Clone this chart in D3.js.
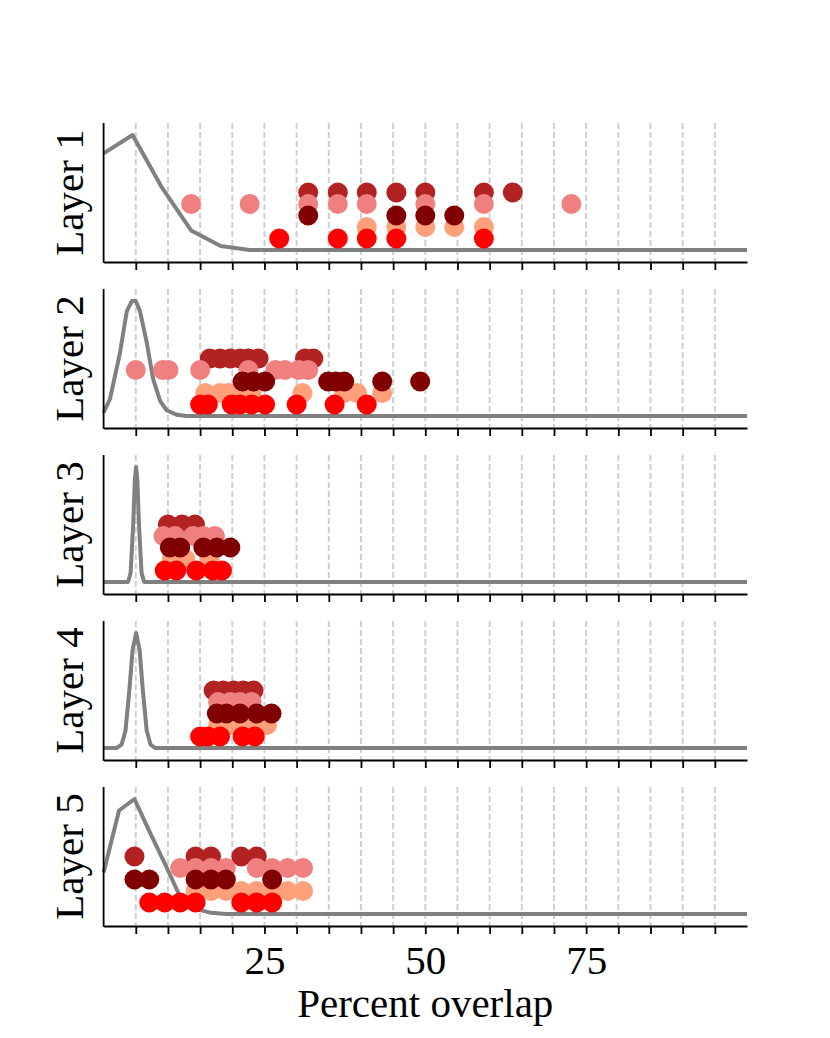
<!DOCTYPE html>
<html>
<head>
<meta charset="utf-8">
<script src="https://cdn.jsdelivr.net/npm/d3@7"></script>
<style>
  body { margin: 0; background: #fff; }
  text { font-family: "Liberation Serif", "DejaVu Serif", serif; fill: #000; }
</style>
</head>
<body>
<div id="chart"></div>
<script>
// ---- data ----
const layerNames = ["Layer 1", "Layer 2", "Layer 3", "Layer 4", "Layer 5"];
const dotColors = ["red", "lightsalmon", "maroon", "lightcoral", "firebrick"];
const tickValues = [5, 10, 15, 20, 25, 30, 35, 40, 45, 50, 55, 60, 65, 70, 75, 80, 85, 90, 95];
const tickLabels = [25, 50, 75];

// density curves (x = percent overlap, y = relative to the peak)
const curveX1 = [0, 4.5, 9.1, 13.6, 18.2, 22.7, 100];
const curveY1 = [0.84, 1.0, 0.54, 0.17, 0.035, 0, 0];
const curveX2 = [0, 1.0, 2.55, 3.6, 4.4, 5.0, 5.66, 6.7, 7.7, 8.8, 9.8, 11.4, 12.9, 100];
const curveY2 = [0.03, 0.15, 0.55, 0.91, 1.0, 1.0, 0.91, 0.64, 0.32, 0.13, 0.05, 0.01, 0, 0];
const curveX3 = [0, 3.8, 4.2, 4.6, 4.85, 5.05, 5.25, 5.5, 5.9, 6.3, 100];
const curveY3 = [0, 0, 0.08, 0.5, 0.88, 1.0, 0.88, 0.5, 0.08, 0, 0];
const curveX4 = [0, 2.0, 2.8, 3.4, 4.0, 4.5, 5.05, 5.6, 6.1, 6.7, 7.3, 8.0, 100];
const curveY4 = [0, 0, 0.03, 0.15, 0.5, 0.85, 1.0, 0.85, 0.5, 0.15, 0.03, 0, 0];
const curveX5 = [0, 2.4, 4.8, 7.1, 9.5, 11.9, 14.3, 16.7, 19.0, 100];
const curveY5 = [0.36, 0.9, 1.0, 0.72, 0.44, 0.15, 0.045, 0.01, 0, 0];

// dots per layer, one list per colour (same order as dotColors)
const dots1 = [
  [27.3, 36.4, 40.9, 45.5, 59.1],
  [40.9, 45.5, 50.0, 54.5, 59.1],
  [31.8, 45.5, 50.0, 54.5],
  [13.6, 22.7, 31.8, 36.4, 40.9, 50.0, 59.1, 72.7],
  [31.8, 36.4, 40.9, 45.5, 50.0, 59.1, 63.6]
];
const dots2 = [
  [15.0, 16.2, 19.9, 21.2, 23.0, 25.1, 30.0, 35.9, 40.9],
  [15.8, 18.1, 19.4, 21.2, 23.0, 30.9, 37.4, 39.4, 43.3],
  [21.6, 23.3, 25.1, 34.9, 36.1, 37.4, 43.3, 49.2],
  [5.0, 9.2, 10.1, 15.0, 22.5, 26.7, 28.2, 30.3, 31.8],
  [16.5, 18.1, 19.7, 21.2, 22.5, 24.1, 31.3, 32.6]
];
const dots3 = [
  [9.5, 11.3, 14.4, 17.0, 18.4],
  [10.6, 12.7, 16.5],
  [10.3, 11.9, 15.5, 17.6, 19.7],
  [9.3, 11.1, 13.9, 15.5, 17.3],
  [10.0, 12.2, 14.2]
];
const dots4 = [
  [15.0, 16.2, 18.1, 21.6, 23.5],
  [17.8, 19.7, 21.5, 23.3, 25.4],
  [17.6, 19.1, 21.2, 23.8, 26.1],
  [17.8, 19.7, 21.2, 23.0],
  [17.1, 18.6, 20.2, 21.7, 23.3]
];
const dots5 = [
  [7.1, 9.5, 11.9, 14.3, 21.4, 23.8, 26.2],
  [14.3, 16.7, 19.0, 21.4, 23.8, 26.2, 28.6, 31.0],
  [4.8, 7.1, 14.3, 16.7, 19.0, 26.2],
  [11.9, 14.3, 16.7, 19.0, 23.8, 26.2, 28.6, 31.0],
  [4.8, 14.3, 16.7, 21.4, 23.8]
];

const curvesX = [curveX1, curveX2, curveX3, curveX4, curveX5];
const curvesY = [curveY1, curveY2, curveY3, curveY4, curveY5];
const dotsAll = [dots1, dots2, dots3, dots4, dots5];

// ---- layout ----
const width = 830, height = 1038;
const left = 103.6, right = 747;
const firstTop = 123, panelH = 139, panelStep = 166;
const pad = 12;          // gap between data range and panel edge
const rowStep = 0.1;     // vertical spacing of the dot rows
const drawOrder = [4, 3, 1, 2, 0];
const fontSize = 41;

const svg = d3.select("#chart").append("svg")
  .attr("width", width)
  .attr("height", height);

const x = d3.scaleLinear().domain([0, 100]).range([left, right]);

layerNames.forEach((name, i) => {
  const top = firstTop + i * panelStep;
  const bottom = top + panelH;
  const y = d3.scaleLinear().domain([0, 1]).range([bottom - pad, top + pad]);
  const g = svg.append("g").attr("class", "panel");

  // dashed grid
  g.selectAll(".grid")
    .data(tickValues)
    .join("line")
    .attr("class", "grid")
    .attr("x1", (d) => x(d))
    .attr("x2", (d) => x(d))
    .attr("y1", top)
    .attr("y2", bottom)
    .attr("stroke", "#d0d0d0")
    .attr("stroke-width", 2)
    .attr("stroke-dasharray", "6,3");

  // density curve
  const pts = curvesX[i].map((v, j) => [v, curvesY[i][j]]);
  const line = d3.line().x((d) => x(d[0])).y((d) => y(d[1]));
  g.append("path")
    .datum(pts)
    .attr("d", line)
    .attr("fill", "none")
    .attr("stroke", "#808080")
    .attr("stroke-width", 4)
    .attr("stroke-linejoin", "round");

  // dots
  drawOrder.forEach((c) => {
    g.append("g")
      .selectAll("circle")
      .data(dotsAll[i][c])
      .join("circle")
      .attr("cx", (d) => x(d))
      .attr("cy", y((c + 1) * rowStep))
      .attr("r", 10)
      .attr("fill", dotColors[c]);
  });

  // x axis
  const xAxis = d3.axisBottom(x)
    .tickValues(tickValues)
    .tickSize(8)
    .tickSizeOuter(0)
    .tickFormat((d) => (i === layerNames.length - 1 && tickLabels.includes(d)) ? d : "");
  const ax = g.append("g")
    .attr("transform", `translate(0,${bottom})`)
    .call(xAxis);
  ax.select(".domain").attr("stroke-width", 1.8);
  ax.selectAll(".tick line").attr("stroke-width", 1.8);
  ax.selectAll(".tick text")
    .attr("y", 48)
    .attr("dy", 0)
    .style("font-size", fontSize + "px")
    .style("font-family", '"Liberation Serif", serif');

  // left spine
  g.append("line")
    .attr("x1", left).attr("x2", left)
    .attr("y1", top).attr("y2", bottom + 0.9)
    .attr("stroke", "#000")
    .attr("stroke-width", 1.8);

  // panel label
  g.append("text")
    .attr("transform", `translate(83,${(top + bottom) / 2}) rotate(-90)`)
    .attr("text-anchor", "middle")
    .style("font-size", fontSize + "px")
    .text(name);
});

svg.append("text")
  .attr("x", (left + right) / 2)
  .attr("y", 1017)
  .attr("text-anchor", "middle")
  .style("font-size", fontSize + "px")
  .text("Percent overlap");
</script>
</body>
</html>
